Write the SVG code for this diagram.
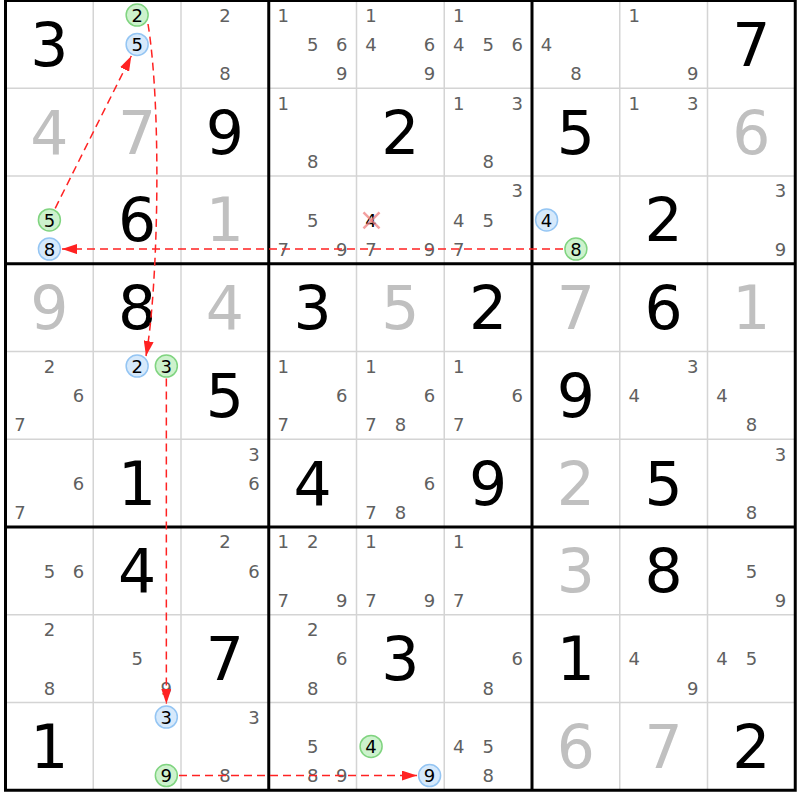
<svg xmlns="http://www.w3.org/2000/svg" width="800" height="800" viewBox="0 0 800 800">
<style>
text{font-family:"DejaVu Sans","Liberation Sans",sans-serif;text-anchor:middle}
.g{font-size:60px;fill:#000}
.s{font-size:60px;fill:#c0c0c0}
.c{font-size:18px;fill:#606060}
.k{font-size:18px;fill:#000}
.gr{fill:#cdf2cd;stroke:#80d480;stroke-width:1.5}
.bl{fill:#d6e9fb;stroke:#94c5f3;stroke-width:1.5}
.thin{stroke:#d4d4d4;stroke-width:1.5}
.thick{stroke:#000;stroke-width:3}
.lk{fill:none;stroke:#f22;stroke-width:1.5;stroke-dasharray:8,5;marker-end:url(#ah)}
.x{stroke:#f08080;stroke-width:2.5;opacity:0.75}
</style>
<defs>
<marker id="ah" markerUnits="userSpaceOnUse" markerWidth="15" markerHeight="10" refX="15" refY="5" orient="auto"><path d="M0,0 L15,5 L0,10 z" fill="#f22"/></marker>
</defs>
<rect width="800" height="800" fill="#fff"/>
<g id="grid">
<g class="thin">
<line x1="93.25" y1="0.5" x2="93.25" y2="790.25"/><line x1="181" y1="0.5" x2="181" y2="790.25"/>
<line x1="356.5" y1="0.5" x2="356.5" y2="790.25"/><line x1="444.25" y1="0.5" x2="444.25" y2="790.25"/>
<line x1="619.75" y1="0.5" x2="619.75" y2="790.25"/><line x1="707.5" y1="0.5" x2="707.5" y2="790.25"/>
<line x1="5.5" y1="88.25" x2="795.25" y2="88.25"/><line x1="5.5" y1="176" x2="795.25" y2="176"/>
<line x1="5.5" y1="351.5" x2="795.25" y2="351.5"/><line x1="5.5" y1="439.25" x2="795.25" y2="439.25"/>
<line x1="5.5" y1="614.75" x2="795.25" y2="614.75"/><line x1="5.5" y1="702.5" x2="795.25" y2="702.5"/>
</g>
<g class="thick">
<line x1="268.75" y1="0.5" x2="268.75" y2="790.25"/><line x1="532" y1="0.5" x2="532" y2="790.25"/>
<line x1="5.5" y1="263.75" x2="795.25" y2="263.75"/><line x1="5.5" y1="527" x2="795.25" y2="527"/>
<rect x="5.5" y="0.5" width="789.75" height="789.75" fill="none"/>
</g>
</g>
<!-- row 0 -->
<g id="r0c0"><text class="g" x="49.4" y="65.9">3</text></g>
<g id="r0c1"><circle class="gr" cx="137.15" cy="15.1" r="11"/><text class="k" x="137.15" y="21.7">2</text><circle class="bl" cx="137.15" cy="44.4" r="11"/><text class="k" x="137.15" y="51">5</text></g>
<g id="r0c2"><text class="c" x="224.9" y="21.7">2</text><text class="c" x="224.9" y="80.2">8</text></g>
<g id="r0c3"><text class="c" x="283.35" y="21.7">1</text><text class="c" x="312.65" y="51">5</text><text class="c" x="341.85" y="51">6</text><text class="c" x="341.85" y="80.2">9</text></g>
<g id="r0c4"><text class="c" x="371.1" y="21.7">1</text><text class="c" x="371.1" y="51">4</text><text class="c" x="429.6" y="51">6</text><text class="c" x="429.6" y="80.2">9</text></g>
<g id="r0c5"><text class="c" x="458.85" y="21.7">1</text><text class="c" x="458.85" y="51">4</text><text class="c" x="488.15" y="51">5</text><text class="c" x="517.35" y="51">6</text></g>
<g id="r0c6"><text class="c" x="546.6" y="51">4</text><text class="c" x="575.9" y="80.2">8</text></g>
<g id="r0c7"><text class="c" x="634.35" y="21.7">1</text><text class="c" x="692.85" y="80.2">9</text></g>
<g id="r0c8"><text class="g" x="751.4" y="65.9">7</text></g>
<!-- row 1 -->
<g id="r1c0"><text class="s" x="49.4" y="153.6">4</text></g>
<g id="r1c1"><text class="s" x="137.1" y="153.6">7</text></g>
<g id="r1c2"><text class="g" x="224.9" y="153.6">9</text></g>
<g id="r1c3"><text class="c" x="283.35" y="109.5">1</text><text class="c" x="312.65" y="168">8</text></g>
<g id="r1c4"><text class="g" x="400.4" y="153.6">2</text></g>
<g id="r1c5"><text class="c" x="458.85" y="109.5">1</text><text class="c" x="517.35" y="109.5">3</text><text class="c" x="488.15" y="168">8</text></g>
<g id="r1c6"><text class="g" x="575.9" y="153.6">5</text></g>
<g id="r1c7"><text class="c" x="634.35" y="109.5">1</text><text class="c" x="692.85" y="109.5">3</text></g>
<g id="r1c8"><text class="s" x="751.4" y="153.6">6</text></g>
<!-- row 2 -->
<g id="r2c0"><circle class="gr" cx="49.4" cy="219.9" r="11"/><text class="k" x="49.4" y="226.5">5</text><circle class="bl" cx="49.4" cy="249.1" r="11"/><text class="k" x="49.4" y="255.7">8</text></g>
<g id="r2c1"><text class="g" x="137.1" y="241.4">6</text></g>
<g id="r2c2"><text class="s" x="224.9" y="241.4">1</text></g>
<g id="r2c3"><text class="c" x="312.65" y="226.5">5</text><text class="c" x="283.35" y="255.7">7</text><text class="c" x="341.85" y="255.7">9</text></g>
<g id="r2c4"><text class="k" x="371.1" y="226.5">4</text><line class="x" x1="363.5" y1="212.3" x2="379.5" y2="228.3"/><line class="x" x1="379.5" y1="212.3" x2="363.5" y2="228.3"/><text class="c" x="371.1" y="255.7">7</text><text class="c" x="429.6" y="255.7">9</text></g>
<g id="r2c5"><text class="c" x="517.35" y="197.2">3</text><text class="c" x="458.85" y="226.5">4</text><text class="c" x="488.15" y="226.5">5</text><text class="c" x="458.85" y="255.7">7</text></g>
<g id="r2c6"><circle class="bl" cx="546.6" cy="219.9" r="11"/><text class="k" x="546.6" y="226.5">4</text><circle class="gr" cx="575.9" cy="249.1" r="11"/><text class="k" x="575.9" y="255.7">8</text></g>
<g id="r2c7"><text class="g" x="663.6" y="241.4">2</text></g>
<g id="r2c8"><text class="c" x="780.6" y="197.2">3</text><text class="c" x="780.6" y="255.7">9</text></g>
<!-- row 3 -->
<g id="r3c0"><text class="s" x="49.4" y="329.1">9</text></g>
<g id="r3c1"><text class="g" x="137.1" y="329.1">8</text></g>
<g id="r3c2"><text class="s" x="224.9" y="329.1">4</text></g>
<g id="r3c3"><text class="g" x="312.6" y="329.1">3</text></g>
<g id="r3c4"><text class="s" x="400.4" y="329.1">5</text></g>
<g id="r3c5"><text class="g" x="488.1" y="329.1">2</text></g>
<g id="r3c6"><text class="s" x="575.9" y="329.1">7</text></g>
<g id="r3c7"><text class="g" x="663.6" y="329.1">6</text></g>
<g id="r3c8"><text class="s" x="751.4" y="329.1">1</text></g>
<!-- row 4 -->
<g id="r4c0"><text class="c" x="49.4" y="372.7">2</text><text class="c" x="78.6" y="402">6</text><text class="c" x="20.1" y="431.2">7</text></g>
<g id="r4c1"><circle class="bl" cx="137.15" cy="366.1" r="11"/><text class="k" x="137.15" y="372.7">2</text><circle class="gr" cx="166.35" cy="366.1" r="11"/><text class="k" x="166.35" y="372.7">3</text></g>
<g id="r4c2"><text class="g" x="224.9" y="416.9">5</text></g>
<g id="r4c3"><text class="c" x="283.35" y="372.7">1</text><text class="c" x="341.85" y="402">6</text><text class="c" x="283.35" y="431.2">7</text></g>
<g id="r4c4"><text class="c" x="371.1" y="372.7">1</text><text class="c" x="429.6" y="402">6</text><text class="c" x="371.1" y="431.2">7</text><text class="c" x="400.4" y="431.2">8</text></g>
<g id="r4c5"><text class="c" x="458.85" y="372.7">1</text><text class="c" x="517.35" y="402">6</text><text class="c" x="458.85" y="431.2">7</text></g>
<g id="r4c6"><text class="g" x="575.9" y="416.9">9</text></g>
<g id="r4c7"><text class="c" x="692.85" y="372.7">3</text><text class="c" x="634.35" y="402">4</text></g>
<g id="r4c8"><text class="c" x="722.1" y="402">4</text><text class="c" x="751.4" y="431.2">8</text></g>
<!-- row 5 -->
<g id="r5c0"><text class="c" x="78.6" y="489.8">6</text><text class="c" x="20.1" y="519">7</text></g>
<g id="r5c1"><text class="g" x="137.1" y="504.6">1</text></g>
<g id="r5c2"><text class="c" x="254.1" y="460.5">3</text><text class="c" x="254.1" y="489.8">6</text></g>
<g id="r5c3"><text class="g" x="312.6" y="504.6">4</text></g>
<g id="r5c4"><text class="c" x="429.6" y="489.8">6</text><text class="c" x="371.1" y="519">7</text><text class="c" x="400.4" y="519">8</text></g>
<g id="r5c5"><text class="g" x="488.1" y="504.6">9</text></g>
<g id="r5c6"><text class="s" x="575.9" y="504.6">2</text></g>
<g id="r5c7"><text class="g" x="663.6" y="504.6">5</text></g>
<g id="r5c8"><text class="c" x="780.6" y="460.5">3</text><text class="c" x="751.4" y="519">8</text></g>
<!-- row 6 -->
<g id="r6c0"><text class="c" x="49.4" y="577.5">5</text><text class="c" x="78.6" y="577.5">6</text></g>
<g id="r6c1"><text class="g" x="137.1" y="592.4">4</text></g>
<g id="r6c2"><text class="c" x="224.9" y="548.2">2</text><text class="c" x="254.1" y="577.5">6</text></g>
<g id="r6c3"><text class="c" x="283.35" y="548.2">1</text><text class="c" x="312.65" y="548.2">2</text><text class="c" x="283.35" y="606.7">7</text><text class="c" x="341.85" y="606.7">9</text></g>
<g id="r6c4"><text class="c" x="371.1" y="548.2">1</text><text class="c" x="371.1" y="606.7">7</text><text class="c" x="429.6" y="606.7">9</text></g>
<g id="r6c5"><text class="c" x="458.85" y="548.2">1</text><text class="c" x="458.85" y="606.7">7</text></g>
<g id="r6c6"><text class="s" x="575.9" y="592.4">3</text></g>
<g id="r6c7"><text class="g" x="663.6" y="592.4">8</text></g>
<g id="r6c8"><text class="c" x="751.4" y="577.5">5</text><text class="c" x="780.6" y="606.7">9</text></g>
<!-- row 7 -->
<g id="r7c0"><text class="c" x="49.4" y="636">2</text><text class="c" x="49.4" y="694.5">8</text></g>
<g id="r7c1"><text class="c" x="137.15" y="665.3">5</text><text class="c" x="166.35" y="694.5">9</text></g>
<g id="r7c2"><text class="g" x="224.9" y="680.1">7</text></g>
<g id="r7c3"><text class="c" x="312.65" y="636">2</text><text class="c" x="341.85" y="665.3">6</text><text class="c" x="312.65" y="694.5">8</text></g>
<g id="r7c4"><text class="g" x="400.4" y="680.1">3</text></g>
<g id="r7c5"><text class="c" x="517.35" y="665.3">6</text><text class="c" x="488.15" y="694.5">8</text></g>
<g id="r7c6"><text class="g" x="575.9" y="680.1">1</text></g>
<g id="r7c7"><text class="c" x="634.35" y="665.3">4</text><text class="c" x="692.85" y="694.5">9</text></g>
<g id="r7c8"><text class="c" x="722.1" y="665.3">4</text><text class="c" x="751.4" y="665.3">5</text></g>
<!-- row 8 -->
<g id="r8c0"><text class="g" x="49.4" y="767.9">1</text></g>
<g id="r8c1"><circle class="bl" cx="166.35" cy="717.1" r="11"/><text class="k" x="166.35" y="723.7">3</text><circle class="gr" cx="166.35" cy="775.6" r="11"/><text class="k" x="166.35" y="782.2">9</text></g>
<g id="r8c2"><text class="c" x="254.1" y="723.7">3</text><text class="c" x="224.9" y="782.2">8</text></g>
<g id="r8c3"><text class="c" x="312.65" y="753">5</text><text class="c" x="312.65" y="782.2">8</text><text class="c" x="341.85" y="782.2">9</text></g>
<g id="r8c4"><circle class="gr" cx="371.1" cy="746.4" r="11"/><text class="k" x="371.1" y="753">4</text><circle class="bl" cx="429.6" cy="775.6" r="11"/><text class="k" x="429.6" y="782.2">9</text></g>
<g id="r8c5"><text class="c" x="458.85" y="753">4</text><text class="c" x="488.15" y="753">5</text><text class="c" x="488.15" y="782.2">8</text></g>
<g id="r8c6"><text class="s" x="575.9" y="767.9">6</text></g>
<g id="r8c7"><text class="s" x="663.6" y="767.9">7</text></g>
<g id="r8c8"><text class="g" x="751.4" y="767.9">2</text></g>
<g id="links">
<line class="lk" x1="55.2" y1="208.3" x2="131.3" y2="56"/>
<path class="lk" d="M148,24 C162,110 158,290 146,356"/>
<line class="lk" x1="563" y1="249.1" x2="62" y2="249.1"/>
<line class="lk" x1="166.35" y1="378.5" x2="166.35" y2="704"/>
<line class="lk" x1="179" y1="775.6" x2="417" y2="775.6"/>
</g>
</svg>
